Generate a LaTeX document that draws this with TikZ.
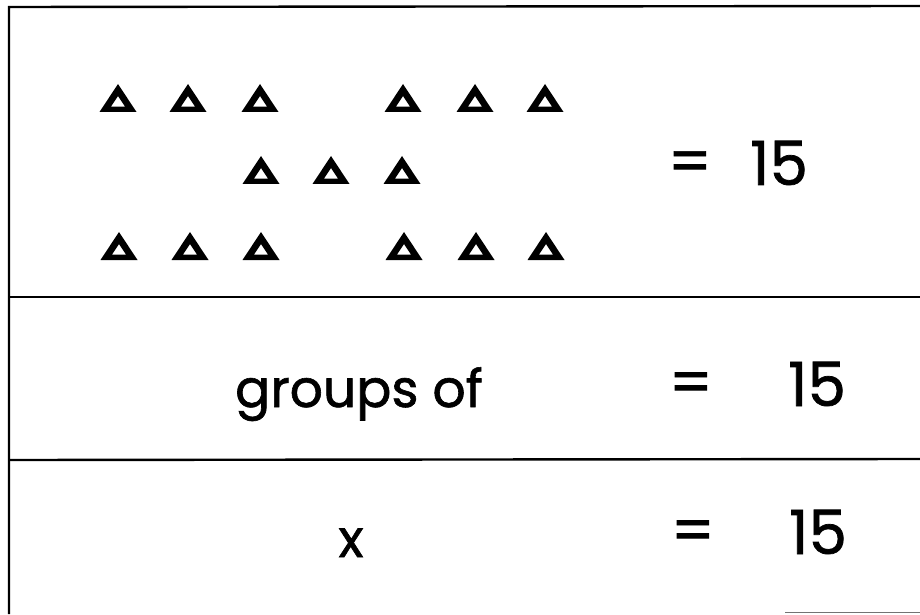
\documentclass[tikz,border=0pt]{standalone}
\usepackage{fontspec}
\setmainfont{Poppins}[FakeBold=1.2]
\begin{document}
\begin{tikzpicture}[x=1pt,y=1pt,
  frame/.style={line width=2.4pt,black},
  tri/.pic={\fill[black,even odd rule] (-18.5,-14) -- (18.5,-14) -- (0,14) -- cycle
     (-7,-8.6) -- (7,-8.6) -- (0,2) -- cycle;},
  big/.style={font=\fontsize{61}{64}\selectfont,inner sep=0pt},
  word/.style={font=\fontsize{52}{56}\selectfont,inner sep=0pt}]
\useasboundingbox (0,0) rectangle (920,614);
% frame
\draw[frame] (9,0) -- (9,607) -- (920,608);
\draw[frame] (9,317) -- (920,317);
\draw[frame] (9,154) -- (920,155);
\draw[line width=1.5pt,black!55] (785,1.5) -- (920,1.5);
% triangles row 1
\foreach \x in {118,188,260,403,475,545} \pic at (\x,516) {tri};
% row 2
\foreach \x in {261,331,402} \pic at (\x,444) {tri};
% row 3
\foreach \x in {119,190,261,404,476,546} \pic at (\x,368) {tri};
% texts
\node[big] (eq1) at (690,447) {=};
\node[big,anchor=base] (n1) at (779,429) {15};
\node[word,anchor=base] (grp) at (359,207) {groups of};
\node[big] (eq2) at (691,226) {=};
\node[big,anchor=base] (n2) at (817,208) {15};
\node[word,anchor=base] (xx) at (351,57) {x};
\node[big] (eq3) at (693,78) {=};
\node[big,anchor=base] (n3) at (818,60) {15};
\end{tikzpicture}
\end{document}
